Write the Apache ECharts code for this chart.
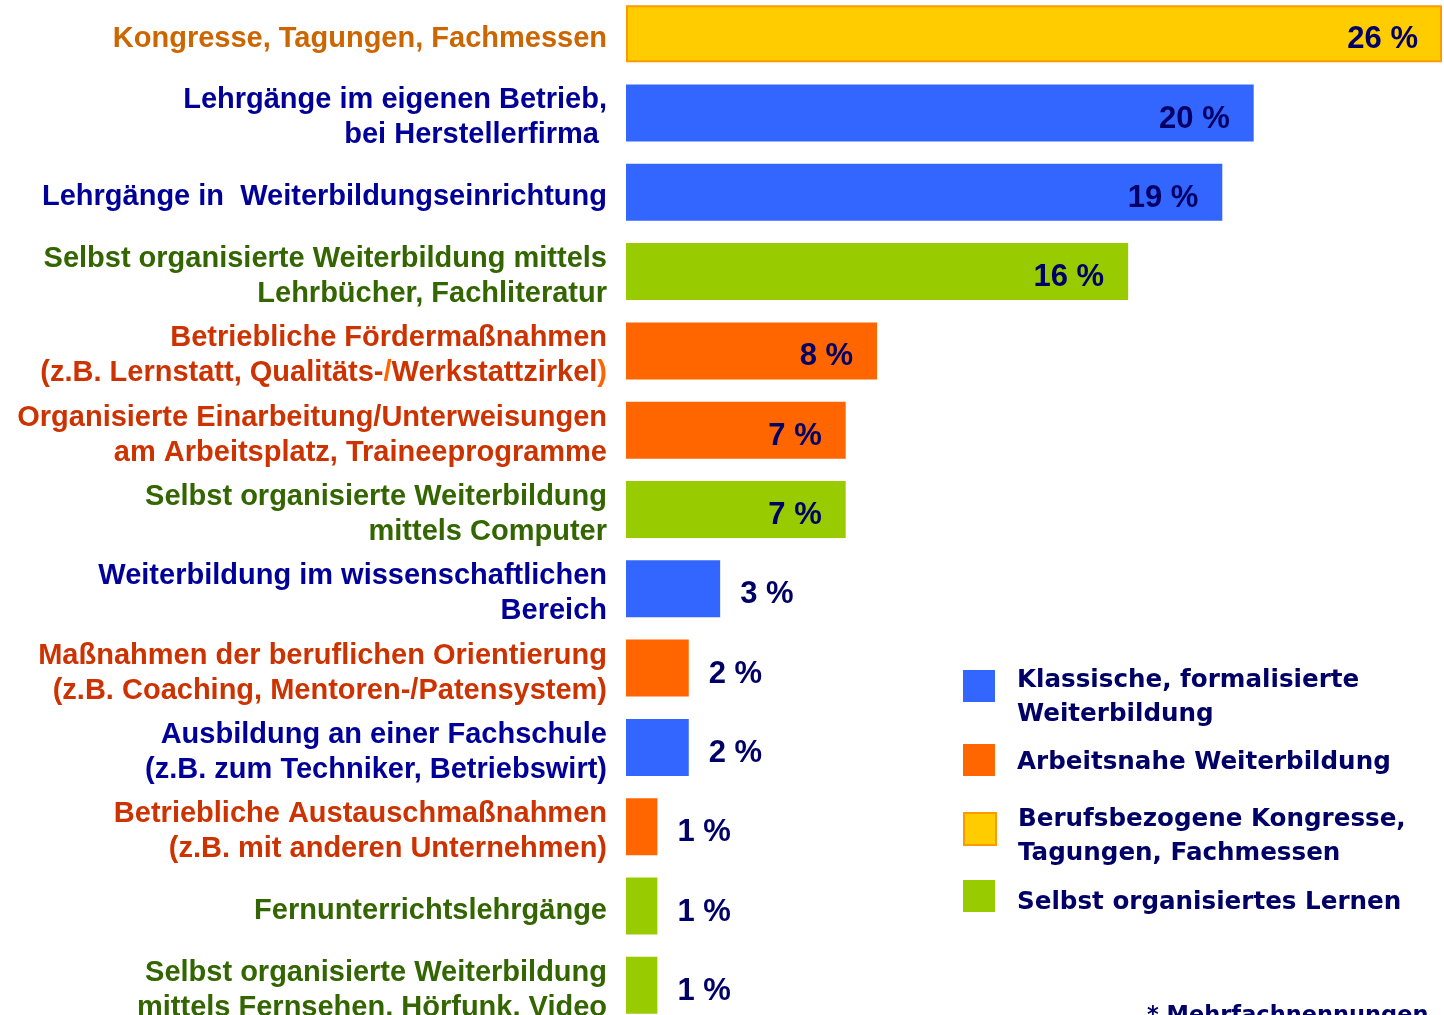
<!DOCTYPE html>
<html>
<head>
<meta charset="utf-8">
<script src="https://cdn.jsdelivr.net/npm/echarts@6/dist/echarts.min.js"></script>
<style>
  html, body { margin: 0; padding: 0; background: #fff; overflow: hidden; }
  /* chart is a bit taller than the window: top and bottom bars are clipped like in the original slide */
  #chart { position: absolute; left: 0; top: -6px; width: 1444px; height: 1031px; }
</style>
</head>
<body>
<div id="chart"></div>
<script>
// categories top to bottom
const categories = [
  'Kongresse, Tagungen, Fachmessen',
  'Lehrgänge im eigenen Betrieb,\nbei Herstellerfirma ',
  'Lehrgänge in  Weiterbildungseinrichtung',
  'Selbst organisierte Weiterbildung mittels\nLehrbücher, Fachliteratur',
  'Betriebliche Fördermaßnahmen\n(z.B. Lernstatt, Qualitäts-/Werkstattzirkel)',
  'Organisierte Einarbeitung/Unterweisungen\nam Arbeitsplatz, Traineeprogramme',
  'Selbst organisierte Weiterbildung\nmittels Computer',
  'Weiterbildung im wissenschaftlichen\nBereich',
  'Maßnahmen der beruflichen Orientierung\n(z.B. Coaching, Mentoren-/Patensystem)',
  'Ausbildung an einer Fachschule\n(z.B. zum Techniker, Betriebswirt)',
  'Betriebliche Austauschmaßnahmen\n(z.B. mit anderen Unternehmen)',
  'Fernunterrichtslehrgänge',
  'Selbst organisierte Weiterbildung\nmittels Fernsehen, Hörfunk, Video'
];
const values = [26, 20, 19, 16, 8, 7, 7, 3, 2, 2, 1, 1, 1];
// group of each category: k = klassisch, a = arbeitsnah, b = berufsbezogen, s = selbst
const groups = ['b', 'k', 'k', 's', 'a', 'a', 's', 'k', 'a', 'k', 'a', 's', 's'];

const groupKeys = ['k', 'a', 'b', 's'];
const groupNames = [
  'Klassische, formalisierte\nWeiterbildung',
  'Arbeitsnahe Weiterbildung',
  'Berufsbezogene Kongresse,\nTagungen, Fachmessen',
  'Selbst organisiertes Lernen'
];
const barColors = { k: '#3366FF', a: '#FF6600', b: '#FFCC00', s: '#99CC00' };
const textColors = { k: '#000099', a: '#CC3300', b: '#CC6600', s: '#336600' };

const chart = echarts.init(document.getElementById('chart'));

const series = groupKeys.map((g, gi) => ({
  name: groupNames[gi],
  type: 'bar',
  stack: 'all',
  barWidth: 57,
  itemStyle: {
    color: barColors[g],
    borderColor: g === 'b' ? '#FF9900' : barColors[g],
    borderWidth: g === 'b' ? 2 : 0
  },
  label: {
    show: true,
    formatter: '{c} %',
    color: '#000066',
    fontFamily: 'Liberation Sans',
    fontWeight: 'bold',
    fontSize: 31,
    offset: [0, 6]
  },
  data: values.map((v, i) => {
    if (groups[i] !== g) return '-';
    return { value: v, label: { position: v >= 5 ? 'insideRight' : 'right', distance: v >= 5 ? 24 : 20 } };
  })
}));

const rich = {};
groupKeys.forEach(g => {
  rich[g] = { color: textColors[g], fontFamily: 'Liberation Sans', fontWeight: 'bold', fontSize: 29, lineHeight: 35, align: 'right' };
});
rich.o = { color: '#FF6600', fontFamily: 'Liberation Sans', fontWeight: 'bold', fontSize: 29, lineHeight: 35, align: 'right' };

// one legend per group so each entry sits where it does on the slide;
// a thin spacer line on top pushes the text a little below its square
const legendTops = [657, 748, 800, 884];
const legendSpacers = [24, 6, 16, 14];
const legends = groupNames.map((name, i) => ({
  orient: 'vertical',
  left: 963,
  top: legendTops[i],
  padding: 0,
  itemWidth: 32,
  itemHeight: 32,
  icon: 'rect',
  data: [name],
  formatter: n => '{sp| }\n' + n.split('\n').map(l => '{t|' + l + '}').join('\n'),
  textStyle: {
    padding: [0, 0, 0, 17],
    rich: {
      sp: { fontSize: 2, lineHeight: legendSpacers[i] },
      t: {
        color: '#000066',
        fontFamily: 'DejaVu Sans',
        fontWeight: 'bold',
        fontSize: 24.6,
        lineHeight: 34
      }
    }
  }
}));

const option = {
  animation: false,
  grid: { left: 626, right: 2, top: 0, bottom: 0 },
  xAxis: {
    type: 'value', min: 0, max: 26,
    show: false
  },
  yAxis: {
    type: 'category',
    inverse: true,
    data: categories,
    axisLine: { show: false },
    axisTick: { show: false },
    axisLabel: {
      margin: 19,
      padding: [10, 0, 0, 0],
      formatter: (val, idx) => {
        const g = groups[idx];
        return val.split('\n').map(line => {
          if (idx === 4 && line.indexOf('(z.B.') === 0) {
            return '{a|(z.B. Lernstatt, Qualitäts-}{o|/}{a|Werkstattzirkel}{o|)}';
          }
          return '{' + g + '|' + line + '}';
        }).join('\n');
      },
      rich: rich
    }
  },
  legend: legends,
  graphic: [{
    type: 'text',
    left: 1147,
    top: 1011,
    style: {
      text: '* Mehrfachnennungen',
      fill: '#000066',
      font: 'bold 22.5px "DejaVu Sans"'
    }
  }],
  series: series
};

chart.setOption(option);
</script>
</body>
</html>
